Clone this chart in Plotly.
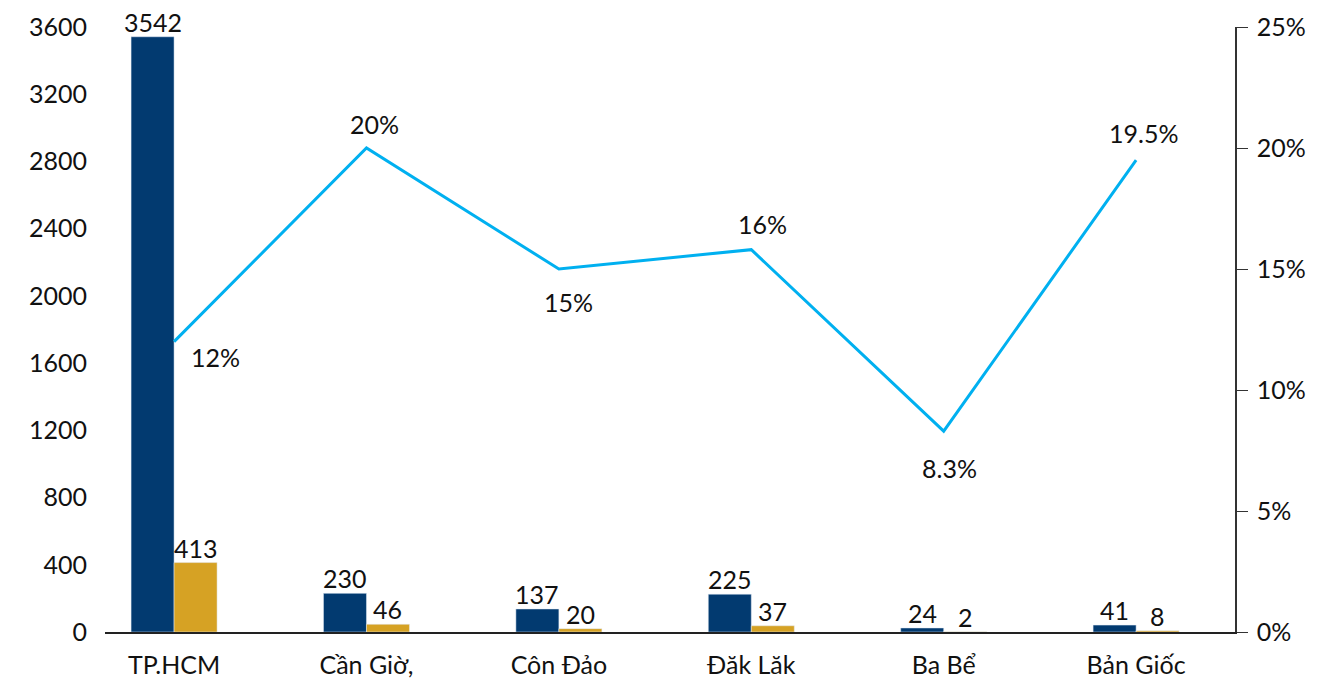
import plotly.graph_objects as go

categories = ["TP.HCM", "Cần Giờ,", "Côn Đảo", "Đăk Lăk", "Ba Bể", "Bản Giốc"]
series_a = [3542, 230, 137, 225, 24, 41]
series_b = [413, 46, 20, 37, 2, 8]
ratio = [0.12, 0.20, 0.15, 0.158, 0.083, 0.195]
ratio_labels = ["12%", "20%", "15%", "16%", "8.3%", "19.5%"]
left_ticks = [0, 400, 800, 1200, 1600, 2000, 2400, 2800, 3200, 3600]
right_ticks = [0, 0.05, 0.10, 0.15, 0.20, 0.25]
right_tick_text = ["0%", "5%", "10%", "15%", "20%", "25%"]
label_shift = [(41, -15), (8, 24), (10, -33), (11, 26), (6, -37), (7, 27)]

FONT = "Lato"
FS = 25
NAVY = "#023A70"
GOLD = "#D6A224"
BLUE = "#00B0F0"
BAR_HALF = 21.5

fig = go.Figure()
fig.add_trace(go.Bar(x=categories, y=series_a, marker_color=NAVY, showlegend=False))
fig.add_trace(go.Bar(x=categories, y=series_b, marker_color=GOLD, showlegend=False))
fig.add_trace(go.Scatter(x=categories, y=ratio, mode="lines", yaxis="y2",
                         line=dict(color=BLUE, width=3), showlegend=False))

for c, a, b in zip(categories, series_a, series_b):
    fig.add_annotation(x=c, y=a, text=str(a), showarrow=False, xshift=-BAR_HALF,
                       yanchor="bottom", yshift=-2, font=dict(size=FS, color="#111"))
    fig.add_annotation(x=c, y=b, text=str(b), showarrow=False, xshift=BAR_HALF,
                       yanchor="bottom", yshift=-2, font=dict(size=FS, color="#111"))

for c, v, t, (dx, dy) in zip(categories, ratio, ratio_labels, label_shift):
    fig.add_annotation(x=c, y=v, yref="y2", text=t, showarrow=False,
                       xshift=dx, yshift=dy, font=dict(size=FS, color="#111"))

fig.update_layout(
    width=1335, height=675,
    margin=dict(l=97, r=108, t=19, b=51),
    paper_bgcolor="white", plot_bgcolor="white",
    font=dict(family=FONT, size=FS, color="#111"),
    barmode="group", bargap=0.553, bargroupgap=0,
    xaxis=dict(range=[-0.359, 5.514], showline=True, linecolor="#222", linewidth=1.5,
               ticks="", showgrid=False, tickfont=dict(size=FS), ticklabelstandoff=10,
               automargin=False),
    yaxis=dict(range=[0, 3600], tickvals=left_ticks, showgrid=False, zeroline=False,
               showline=False, ticks="", tickfont=dict(size=FS), ticklabelstandoff=17,
               automargin=False),
    yaxis2=dict(range=[0, 0.25], tickvals=right_ticks, ticktext=right_tick_text,
                overlaying="y", side="right", showgrid=False, zeroline=False,
                showline=True, linecolor="#333", linewidth=1.5, ticks="outside",
                ticklen=11, tickcolor="#333", tickfont=dict(size=FS), ticklabelstandoff=4,
                automargin=False),
)

fig.write_html("out.html")
